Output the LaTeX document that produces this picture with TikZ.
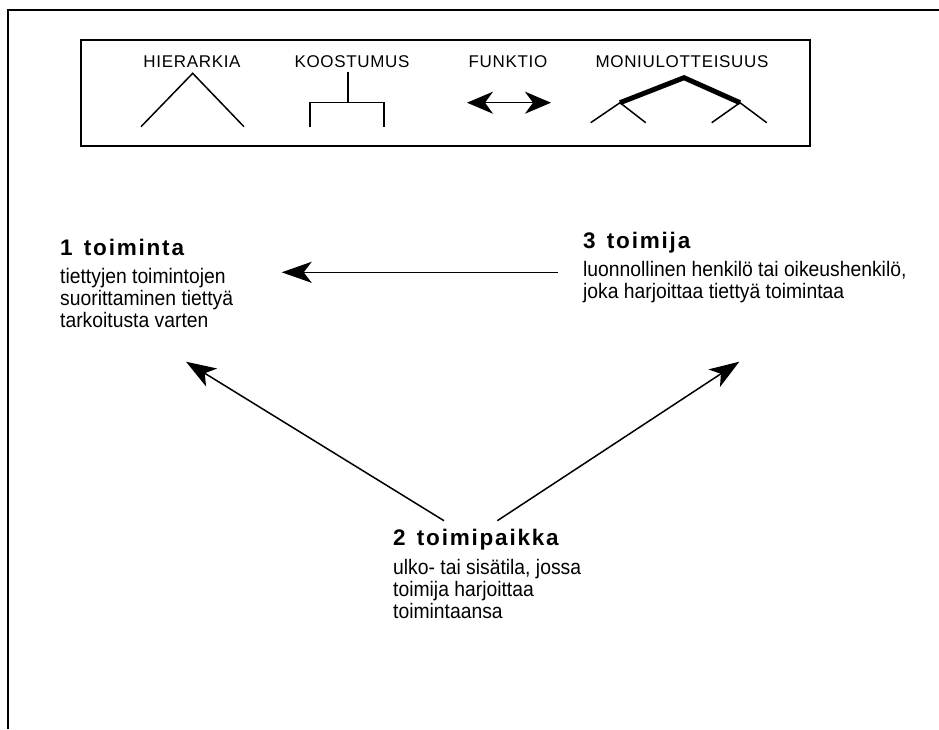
\documentclass[tikz,border=0pt]{standalone}
\usepackage{fontspec}
\setmainfont{Liberation Sans}
\newfontfamily\hdrfont[LetterSpace=4]{Liberation Sans}
\newfontfamily\ttlfont[LetterSpace=8]{Liberation Sans Bold}
\newfontfamily\bodyfont[FakeStretch=0.92]{Liberation Sans}
\usetikzlibrary{arrows.meta}
\begin{document}
\begin{tikzpicture}[x=1pt,y=-1pt,
  framel/.style={line width=2pt},
  lnk/.style={line width=1.5pt},
  thick5/.style={line width=5pt},
  bigarrow/.style={line width=1.5pt,-{Stealth[length=30pt,width=21pt,inset=8pt]}},
  hdr/.style={font=\hdrfont\fontsize{17}{19}\selectfont, inner sep=0pt, anchor=base},
  ttl/.style={font=\ttlfont\fontsize{22.5}{25}\selectfont, inner sep=0pt, anchor=base west},
  body/.style={font=\bodyfont\fontsize{21}{22}\selectfont, inner sep=0pt, anchor=base west, align=left}
]
\useasboundingbox (0,0) rectangle (939,729);
% outer frame (partially visible)
\draw[framel] (8,729) -- (8,10) -- (939,10);
% legend box
\draw[framel] (81,40) rectangle (810,145.5);
% legend labels
\node[hdr] (lh) at (192,67.3) {HIERARKIA};
\node[hdr] (lk) at (352,67.3) {KOOSTUMUS};
\node[hdr] (lf) at (508,67.3) {FUNKTIO};
\node[hdr] (lm) at (682,67.3) {MONIULOTTEISUUS};
% hierarkia
\draw[lnk] (141,126.7) -- (192.7,73.3) -- (244,126.7);
% koostumus
\draw[lnk] (348,71.7) -- (348,102.7);
\draw[lnk] (310,126.7) -- (310,102.7) -- (384,102.7) -- (384,126.7);
% funktio
\draw[line width=1.5pt,{Stealth[length=26pt,width=22pt,inset=8pt]}-{Stealth[length=26pt,width=22pt,inset=8pt]}] (467,102.7) -- (551,102.7);
% moniulotteisuus
\draw[thick5,line join=miter] (620,102.7) -- (684,77.7) -- (740,102.7);
\draw[lnk] (590.7,122.7) -- (620,102.7) -- (645.7,122.7);
\draw[lnk] (711.7,122.7) -- (740,102.7) -- (766.7,122.7);
% concepts
\node[ttl] (t1) at (60,255) {1\hspace{0.5em}toiminta};
\node[body] (b1) at (60,327) {tiettyjen toimintojen\\suorittaminen tiettyä\\tarkoitusta varten};
\node[ttl] (t3) at (583,248.3) {3\hspace{0.5em}toimija};
\node[body] (b3) at (583,298) {luonnollinen henkilö tai oikeushenkilö,\\joka harjoittaa tiettyä toimintaa};
\node[ttl] (t2) at (393,545) {2\hspace{0.5em}toimipaikka};
\node[body] (b2) at (393,618.3) {ulko- tai sisätila, jossa\\toimija harjoittaa\\toimintaansa};
% connectors
\coordinate (s31) at (558,272.3);
\coordinate (e31) at (281.7,272.3);
\coordinate (s21) at (444,520.7);
\coordinate (e21) at (186,361.7);
\coordinate (s23) at (497.3,520.7);
\coordinate (e23) at (739.3,361.7);
\draw[bigarrow] (s31) -- (e31);
\draw[bigarrow] (s21) -- (e21);
\draw[bigarrow] (s23) -- (e23);
\end{tikzpicture}
\end{document}
